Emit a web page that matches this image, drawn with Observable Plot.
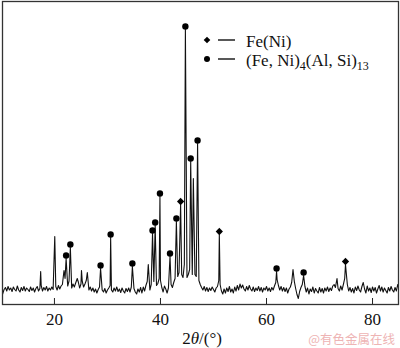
<!DOCTYPE html>
<html>
<head>
<meta charset="utf-8">
<script src="https://cdn.jsdelivr.net/npm/d3@7"></script>
<script src="https://cdn.jsdelivr.net/npm/@observablehq/plot@0.6"></script>
<style>
  html, body { margin: 0; padding: 0; background: #fff; }
  #chart svg { display: block; }
  #chart svg, #chart svg text { font-family: "Liberation Serif", "Times New Roman", serif !important; }
  #chart g[aria-label="x-axis tick label"], #chart g[aria-label="x-axis tick label"] text { font-size: 17px !important; fill: #111; }
  #chart svg text.wm { font-family: "Noto Sans CJK SC", sans-serif !important; }
</style>
</head>
<body>
<div id="chart"></div>
<script>
const gridStart = 10;
const gridStep = 0.25;
const baseline = [
  70,110,150,170,135,180,145,165,130,175,150,135,185,145,125,170,140,180,135,165,
  150,130,175,140,165,125,160,180,135,160,190,135,170,145,180,135,165,145,175,150,
  160,180,145,190,155,185,200,230,260,210,185,235,195,165,205,175,215,185,225,165,
  205,230,175,205,240,175,145,175,135,165,125,155,115,150,175,200,145,125,160,115,
  145,165,190,145,125,165,135,175,130,155,120,165,135,115,160,130,165,125,175,190,
  160,125,105,155,125,170,115,175,135,190,230,170,145,200,260,230,250,190,210,260,
  240,170,125,185,155,115,165,220,200,170,220,260,300,280,320,350,300,270,400,380,
  270,300,350,330,300,350,300,280,310,240,200,170,145,180,135,170,130,165,140,175,
  150,125,165,180,240,200,135,105,155,115,165,130,180,125,155,115,175,135,190,145,
  205,165,195,155,135,180,145,190,155,135,175,130,165,140,180,135,170,125,165,145,
  180,135,165,130,170,145,185,220,250,190,145,180,135,170,130,165,115,155,175,220,
  300,230,160,100,60,130,170,200,230,180,125,165,105,155,130,175,115,160,135,115,
  170,125,160,115,165,135,175,130,165,140,185,200,170,230,160,135,185,145,200,260,
  260,200,135,170,125,160,115,175,140,185,145,125,180,220,155,115,185,135,165,120,
  175,135,170,115,155,190,135,175,125,165,140,115,170,135,180,145,125,170,135,200,
  150
];

// Peaks: position (2θ), top intensity, phase marker ("c" = (Fe,Ni)4(Al,Si)13, "d" = Fe(Ni), "" = none)
const peakPos    = [17.4, 20.06, 21.8, 22.2, 23.0, 24.3, 25.1, 26.2, 28.7, 30.6, 34.7, 37.7, 38.5, 39.0, 39.9, 41.8, 43.0, 43.8, 44.7, 45.7, 46.2, 47.0, 51.1, 61.9, 65.0, 67.0, 73.3, 74.9];
const peakHeight = [330, 680, 340, 460, 570, 260, 340, 320, 360, 670, 380, 400, 710, 790, 1080, 480, 830, 1000, 2750, 1430, 1260, 1610, 700, 330, 350, 290, 260, 400];
const peakPhase  = ["", "", "", "c", "c", "", "", "", "c", "c", "c", "", "c", "c", "c", "c", "c", "d", "c", "c", "", "c", "d", "c", "", "c", "", "d"];

const xTicks = [20, 40, 60, 80];
const legendLabels = ["Fe(Ni)", "(Fe, Ni)4(Al, Si)13"];

// Build table
const gridPts = baseline.map((v, i) => ({t: gridStart + i * gridStep, I: v}));
const peakPts = peakPos.map((p, i) => ({t: p, I: peakHeight[i], phase: peakPhase[i]}));
const pattern = gridPts
  .filter(g => !peakPos.some(p => Math.abs(p - g.t) < 0.1))
  .concat(peakPts)
  .sort((a, b) => a.t - b.t);
const circles = peakPts.filter(d => d.phase === "c");
const diamonds = peakPts.filter(d => d.phase === "d");

const serif = "'Liberation Serif', 'Times New Roman', serif";

const plot = Plot.plot({
  width: 400,
  height: 348,
  marginTop: 1,
  marginBottom: 44,
  marginLeft: 2,
  marginRight: 2,
  style: {fontFamily: serif, fontSize: "17px", color: "#111", background: "#fff"},
  x: {domain: [10.2, 84.9]},
  y: {domain: [0, 3030], axis: null},
  marks: [
    Plot.line(pattern, {x: "t", y: "I", stroke: "#111", strokeWidth: 1.1, clip: true}),
    Plot.dot(circles, {x: "t", y: "I", r: 3.2, fill: "#000", dy: -3}),
    Plot.dot(diamonds, {x: "t", y: "I", symbol: "square", r: 2.9, rotate: 45, fill: "#000", dy: -3}),
    Plot.axisX({ticks: xTicks, tickSize: -6, tickPadding: 14, label: null, stroke: "#222", fill: "#111", fontSize: 17}),
    Plot.frame({stroke: "#333", strokeWidth: 1.3})
  ]
});

document.getElementById("chart").appendChild(plot);

// Legend, axis title and watermark as real SVG text
const svg = d3.select(plot);
const lg = svg.append("g").attr("text-anchor", "start");
// legend symbols
lg.append("path")
  .attr("d", d3.symbol(d3.symbolSquare, 22)())
  .attr("transform", "translate(207,40) rotate(45)")
  .attr("fill", "#000");
lg.append("circle").attr("cx", 207).attr("cy", 59).attr("r", 3).attr("fill", "#000");
lg.append("line").attr("x1", 218).attr("x2", 235).attr("y1", 40).attr("y2", 40).attr("stroke", "#111").attr("stroke-width", 1.4);
lg.append("line").attr("x1", 218).attr("x2", 235).attr("y1", 59).attr("y2", 59).attr("stroke", "#111").attr("stroke-width", 1.4);
lg.append("text").attr("x", 246).attr("y", 46.5).attr("text-anchor", "start")
  .attr("font-family", serif).attr("font-size", 17).attr("fill", "#111")
  .text(legendLabels[0]);
const t2 = lg.append("text").attr("x", 246).attr("y", 66).attr("text-anchor", "start")
  .attr("font-family", serif).attr("font-size", 17).attr("fill", "#111");
t2.append("tspan").text("(Fe, Ni)");
t2.append("tspan").attr("font-size", 12).attr("dy", 4).text("4");
t2.append("tspan").attr("dy", -4).text("(Al, Si)");
t2.append("tspan").attr("font-size", 12).attr("dy", 4).text("13");

// axis title 2θ/(°)
const at = svg.append("text").attr("x", 202).attr("y", 343.5)
  .attr("text-anchor", "middle")
  .attr("font-family", serif).attr("font-size", 17).attr("fill", "#111");
at.append("tspan").text("2");
at.append("tspan").attr("font-style", "italic").text("θ");
at.append("tspan").text("/(°)");

// watermark
svg.append("text").attr("class", "wm").attr("x", 395).attr("y", 344)
  .attr("text-anchor", "end")
  .attr("font-size", 12.5)
  .attr("fill", "#eeb4b4")
  .text("@有色金属在线");
</script>
</body>
</html>
